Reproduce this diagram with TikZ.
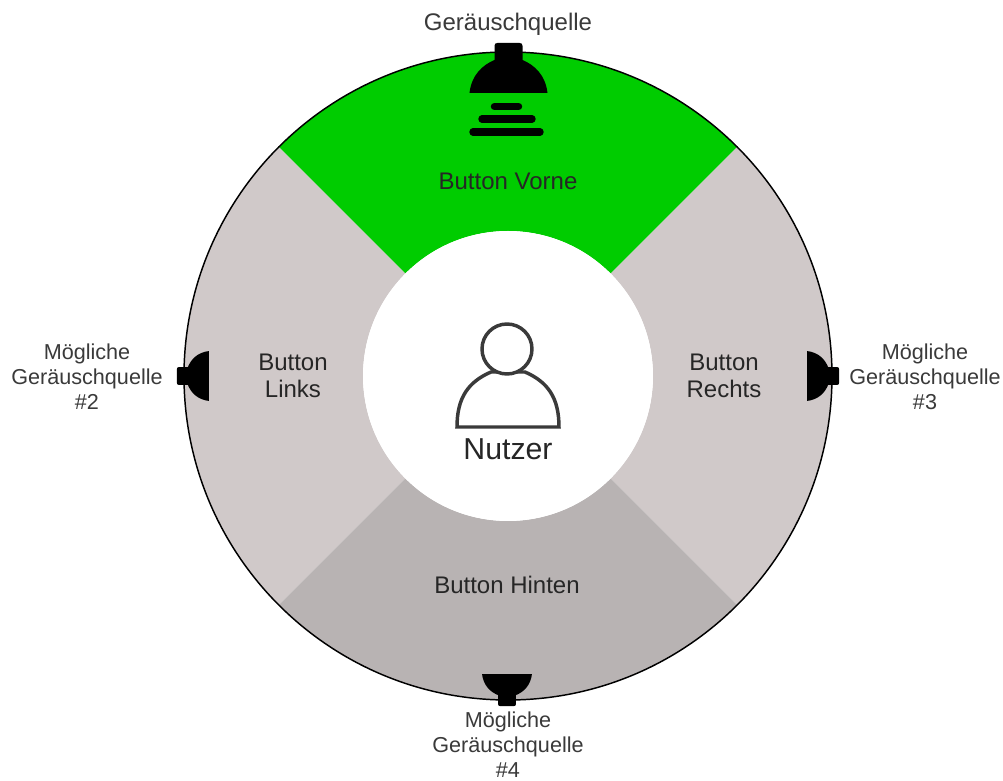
\documentclass[tikz,border=0pt]{standalone}
\usepackage{fontspec}
\setmainfont{Liberation Sans}
\usepackage{tikz}
\usetikzlibrary{positioning}

\definecolor{frontgreen}{HTML}{00CC00}
\definecolor{sidegrey}{HTML}{D0C9C9}
\definecolor{backgrey}{HTML}{B8B3B3}
\definecolor{labelgrey}{HTML}{3A3A3A}
\definecolor{buttongrey}{HTML}{262626}

\begin{document}
\begin{tikzpicture}[
    x=0.75pt, y=0.75pt,
    button/.style={font=\fontsize{18}{20.25}\selectfont, text=buttongrey, align=center},
    source/.style={font=\fontsize{16.2}{18.75}\selectfont, text=labelgrey, align=center},
    ring/.style={draw=black, circle, line width=1.1pt, inner sep=0pt, minimum size=486pt},
    hub/.style={fill=white, circle, inner sep=0pt, minimum size=217.5pt},
    sector/.style={line width=0pt},
    lamp/.pic={
        \fill[black] (-39,0) .. controls (-37,18) and (-26,28) .. (-14,33)
            -- (-14,47) .. controls (-14,49) and (-13,50) .. (-11,50)
            -- (11,50) .. controls (13,50) and (14,49) .. (14,47)
            -- (14,33) .. controls (26,28) and (37,18) .. (39,0) -- cycle;
    }
]
    \useasboundingbox (-508,-405) rectangle (495,376);
    \fill[white] (-508,-405) rectangle (495,376);

    % sectors
    \fill[sector, sidegrey] (-45:324) arc[start angle=-45, end angle=45, radius=324]
        -- (45:145) arc[start angle=45, end angle=-45, radius=145] -- cycle;
    \fill[sector, sidegrey] (135:324) arc[start angle=135, end angle=225, radius=324]
        -- (225:145) arc[start angle=225, end angle=135, radius=145] -- cycle;
    \fill[sector, backgrey] (225:324) arc[start angle=225, end angle=315, radius=324]
        -- (315:145) arc[start angle=315, end angle=225, radius=145] -- cycle;
    \fill[sector, frontgreen] (45:324) arc[start angle=45, end angle=135, radius=324]
        -- (135:145) arc[start angle=135, end angle=45, radius=145] -- cycle;

    \node[ring] (Rim) at (0,0) {};
    \node[hub] (Hub) at (0,0) {};

    % user
    \draw[line width=2.6pt, labelgrey] (-51,-51) -- (51,-51)
        .. controls (51,-22) and (40,-6) .. (17,4) -- (-17,4)
        .. controls (-40,-6) and (-51,-22) .. (-51,-51) -- cycle;
    \fill[white] (-1,27) circle[radius=25];
    \draw[line width=2.6pt, labelgrey] (-1,27) circle[radius=25];
    \node[font=\fontsize{22.7}{26}\selectfont, text=buttongrey] (Nutzer) at (0,-73) {Nutzer};

    % sound sources
    \pic at (0.5,283) {lamp};
    \pic[rotate=-90, scale=0.64] at (299,0) {lamp};
    \pic[rotate=90, scale=0.64] at (-299,0) {lamp};
    \pic[rotate=180, scale=0.64] at (-1,-298) {lamp};
    \draw[line width=5.6pt, line cap=round, black] (-13.5,269.5) -- (10.5,269.5);
    \draw[line width=5.6pt, line cap=round, black] (-26,257) -- (24,257);
    \draw[line width=5.6pt, line cap=round, black] (-35,244) -- (32,244);

    \node[button] (Vorne) at (0,195) {Button Vorne};
    \node[button] (Hinten) at (-1,-209) {Button Hinten};
    \node[button] (Links) at (-215,0) {Button\\Links};
    \node[button] (Rechts) at (216,0) {Button\\Rechts};

    \node[button, text=labelgrey] (Quelle1) at (0,352) {Geräuschquelle};
    \node[source] (Quelle2) at (-421,-1) {Mögliche\\Geräuschquelle\\\#2};
    \node[source] (Quelle3) at (417,-1) {Mögliche\\Geräuschquelle\\\#3};
    \node[source] (Quelle4) at (0,-369) {Mögliche\\Geräuschquelle\\\#4};
\end{tikzpicture}
\end{document}
